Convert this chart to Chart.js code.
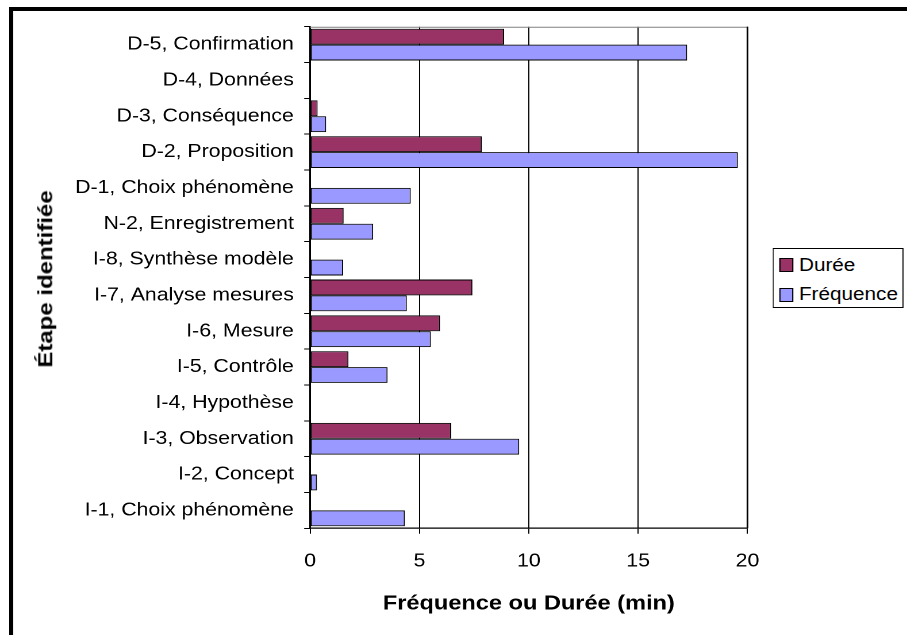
<!DOCTYPE html>
<html>
<head>
<meta charset="utf-8">
<script src="https://cdn.jsdelivr.net/npm/chart.js@4/dist/chart.umd.min.js"></script>
<style>
  html, body { margin: 0; padding: 0; background: #fff; overflow: hidden; }
  #wrap { position: relative; width: 789px; height: 635px; transform: scaleX(1.1496); transform-origin: 0 0; }
  #wrap canvas { position: absolute; left: 0; top: 0; }
  #legend { position: absolute; left: 672px; top: 248px; width: 114px; height: 60px; box-sizing: border-box;
            border: 1px solid #000; background: #fff; font-family: "Liberation Sans", Arial, sans-serif; font-size: 18px; color: #000; }
  .sw { position: absolute; left: 5px; width: 12px; height: 14px; box-sizing: border-box; border: 1px solid #000; }
  .lt { position: absolute; left: 22px; line-height: 18px; white-space: nowrap; }
  #ytitle { position: absolute; left: 46px; top: 279px; white-space: nowrap; line-height: 1;
            font-family: "Liberation Sans", Arial, sans-serif; font-weight: bold; font-size: 19.5px; color: #000;
            transform: translate(-50%, -50%) rotate(-90deg) scaleX(1.23); }
</style>
</head>
<body>
<div id="wrap">
  <canvas id="c"></canvas>
  <div id="legend"></div>
</div>
<div id="ytitle"></div>
<script>
// ---- data (top to bottom as displayed) ----
const categories = [
  'D-5, Confirmation', 'D-4, Données', 'D-3, Conséquence', 'D-2, Proposition',
  'D-1, Choix phénomène', 'N-2, Enregistrement', 'I-8, Synthèse modèle',
  'I-7, Analyse mesures', 'I-6, Mesure', 'I-5, Contrôle', 'I-4, Hypothèse',
  'I-3, Observation', 'I-2, Concept', 'I-1, Choix phénomène'
];
const duree     = [8.87, 0, 0.34, 7.85, 0,    1.53, 0,    7.42, 5.94, 1.75, 0, 6.45, 0,    0];
const frequence = [17.24, 0, 0.73, 19.56, 4.6, 2.88, 1.51, 4.42, 5.52, 3.54, 0, 9.56, 0.31, 4.33];
const seriesNames = ['Durée', 'Fréquence'];
const seriesColors = ['#993366', '#9999FF'];
const xTicks = [0, 5, 10, 15, 20];
const xTitle = 'Fréquence ou Durée (min)';
const yTitle = 'Étape identifiée';

const FONT = '"Liberation Sans", Arial, sans-serif';

const framePlugin = {
  id: 'frame',
  beforeDraw(chart) {
    const ctx = chart.ctx;
    ctx.save();
    ctx.fillStyle = '#fff';
    ctx.fillRect(0, 0, chart.width, chart.height);
    ctx.fillStyle = '#000';
    ctx.fillRect(8, 7, chart.width, 4);
    ctx.fillRect(8, 7, 3.5, chart.height);
    ctx.restore();
  },
  afterDraw(chart) {
    const a = chart.chartArea, ctx = chart.ctx;
    ctx.save();
    ctx.strokeStyle = '#808080';
    ctx.lineWidth = 1;
    ctx.beginPath();
    ctx.moveTo(a.left, a.top + 0.5);
    ctx.lineTo(a.right, a.top + 0.5);
    ctx.stroke();
    ctx.strokeStyle = '#000';
    ctx.lineWidth = 1.5;
    ctx.beginPath();
    ctx.moveTo(a.right, a.top);
    ctx.lineTo(a.right, a.bottom);
    ctx.stroke();
    ctx.restore();
  }
};

new Chart(document.getElementById('c'), {
  type: 'bar',
  data: {
    labels: categories,
    datasets: [
      { label: seriesNames[0], data: duree, backgroundColor: seriesColors[0], borderColor: '#000', borderWidth: 1, borderSkipped: false },
      { label: seriesNames[1], data: frequence, backgroundColor: seriesColors[1], borderColor: '#000', borderWidth: 1, borderSkipped: false }
    ]
  },
  options: {
    indexAxis: 'y',
    responsive: true,
    maintainAspectRatio: false,
    devicePixelRatio: 2,
    animation: false,
    layout: { padding: { left: 0, top: 26.7, right: 138.8, bottom: 0 } },
    datasets: { bar: { categoryPercentage: 0.885, barPercentage: 1 } },
    plugins: { legend: { display: false }, tooltip: { enabled: false } },
    scales: {
      x: {
        type: 'linear', min: 0, max: 20,
        afterBuildTicks(s) { s.ticks = xTicks.map(v => ({ value: v })); },
        afterFit(s) { s.height = 106.7; },
        grid: { color: '#000', lineWidth: 1, tickLength: 5.5, drawTicks: true },
        border: { color: '#000', width: 1.3 },
        ticks: { color: '#000', font: { family: FONT, size: 18.5 }, padding: 16.5, maxRotation: 0 },
        title: { display: true, text: xTitle, color: '#000', font: { family: FONT, size: 20.5, weight: 'bold' }, padding: { top: 0, bottom: 18.7 } }
      },
      y: {
        type: 'category',
        afterFit(s) { s.width = 269.8; },
        grid: { offset: true, drawOnChartArea: false, color: '#000', tickLength: 5.2 },
        border: { color: '#000', width: 1.3 },
        ticks: { color: '#000', font: { family: FONT, size: 18.5 }, padding: 9, autoSkip: false },
        title: { display: false }
      }
    }
  },
  plugins: [framePlugin]
});

document.getElementById('ytitle').textContent = yTitle;

// legend
const leg = document.getElementById('legend');
const swTops = [9, 39], txtTops = [7.3, 36.3];
seriesNames.forEach((n, i) => {
  const sw = document.createElement('div');
  sw.className = 'sw'; sw.style.top = swTops[i] + 'px'; sw.style.background = seriesColors[i];
  const t = document.createElement('div');
  t.className = 'lt'; t.style.top = txtTops[i] + 'px'; t.textContent = n;
  leg.appendChild(sw); leg.appendChild(t);
});
</script>
</body>
</html>
